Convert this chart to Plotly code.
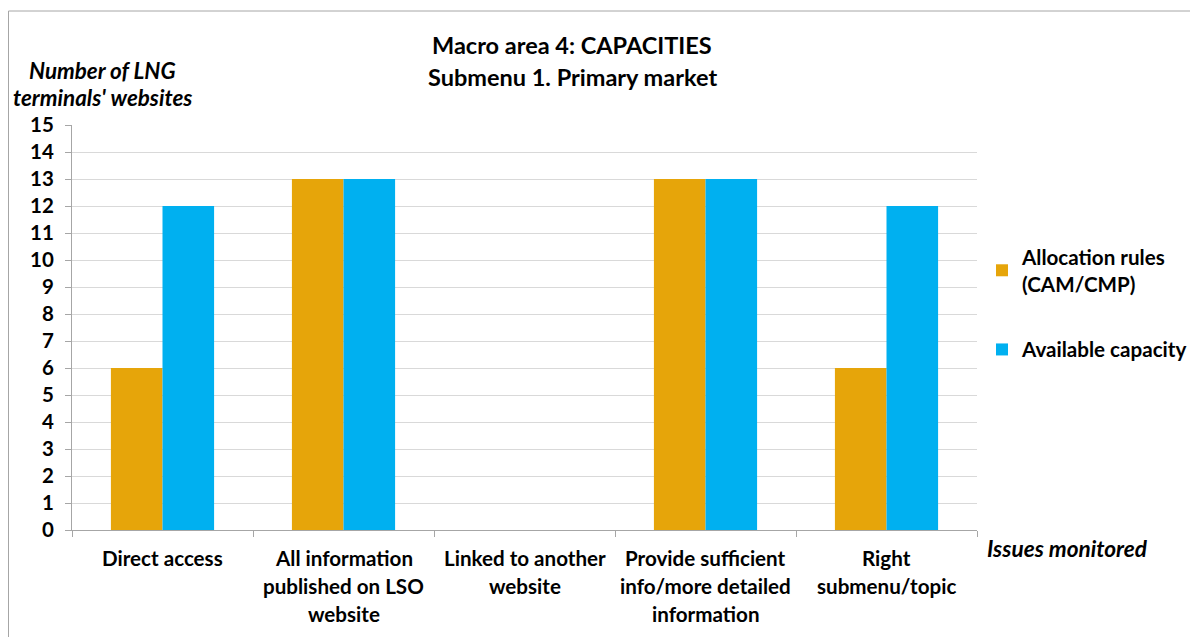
import plotly.graph_objects as go

categories = [
    "Direct access",
    "All information\npublished on LSO\nwebsite",
    "Linked to another\nwebsite",
    "Provide sufficient\ninfo/more detailed\ninformation",
    "Right\nsubmenu/topic",
]
allocation_rules = [6, 13, 0, 13, 6]
available_capacity = [12, 13, 0, 13, 12]
series_names = ["Allocation rules<br>(CAM/CMP)", "Available capacity"]
title_lines = ["Macro area 4: CAPACITIES", "Submenu 1. Primary market"]
y_title_lines = ["Number of LNG", "terminals' websites"]
x_title = "Issues monitored"
y_ticks = list(range(0, 16))

FONT = "Lato"
ORANGE = "#E6A50A"
BLUE = "#00B0F0"

fig = go.Figure()
fig.add_trace(go.Bar(x=categories, y=allocation_rules, name=series_names[0],
                     marker=dict(color=ORANGE, line=dict(width=0)), legendgroup="a"))
fig.add_trace(go.Bar(x=categories, y=available_capacity, name=series_names[1],
                     marker=dict(color=BLUE, line=dict(width=0)), legendgroup="b"))

# page body has an 8px margin; figure origin sits at screen (8, 8)
OFF = 8
W, H = 1250, 629
PLOT_RIGHT = 977
L, T, B = 64, 117, 107
R = W + OFF - PLOT_RIGHT
pw = W - L - R
ph = H - T - B

def px_x(sx):
    return (sx - OFF - L) / pw

def px_y(sy):
    return (H - B - (sy - OFF)) / ph

annotations = []
for i, line in enumerate(title_lines):
    annotations.append(dict(text=line, xref="paper", yref="paper", x=px_x(572), y=px_y(45 + 32 * i),
                            xanchor="center", yanchor="middle", showarrow=False,
                            font=dict(family=FONT, size=23.5, color="black", weight="bold")))
for i, line in enumerate(y_title_lines):
    annotations.append(dict(text="<i>" + line + "</i>", xref="paper", yref="paper", x=px_x(102), y=px_y(70 + 27 * i),
                            xanchor="center", yanchor="middle", showarrow=False,
                            font=dict(family=FONT, size=22.4, color="black", weight="bold")))
annotations.append(dict(text="<i>" + x_title + "</i>", xref="paper", yref="paper", x=px_x(1067), y=px_y(548),
                        xanchor="center", yanchor="middle", showarrow=False,
                        font=dict(family=FONT, size=22.6, color="black", weight="bold")))
for cat in categories:
    for j, line in enumerate(cat.split("\n")):
        annotations.append(dict(text=line, x=cat, xref="x", yref="paper", y=px_y(558 + 28 * j),
                                xanchor="center", yanchor="middle", showarrow=False,
                                font=dict(family=FONT, size=20.6, color="black", weight="bold")))

fig.update_layout(
    width=W, height=H,
    margin=dict(l=L, r=R, t=T, b=B, pad=0),
    paper_bgcolor="white", plot_bgcolor="white",
    barmode="group", bargap=0.43, bargroupgap=0,
    font=dict(family=FONT, size=20, color="black"),
    showlegend=True,
    legend=dict(x=px_x(982), y=px_y(237), xanchor="left", yanchor="top",
                traceorder="grouped", tracegroupgap=36,
                font=dict(family=FONT, size=20.6, color="black", weight="bold"),
                itemwidth=30, bgcolor="rgba(0,0,0,0)"),
    annotations=annotations,
    shapes=[dict(type="rect", xref="paper", yref="paper",
                 x0=px_x(8.5), x1=px_x(1260), y0=px_y(660), y1=px_y(11),
                 line=dict(color="#a6a6a6", width=1), fillcolor="rgba(0,0,0,0)", layer="below")],
)
fig.update_xaxes(showticklabels=False, showgrid=False, showline=True, linecolor="#a6a6a6", linewidth=1,
                 ticks="outside", tickson="boundaries", ticklen=6, tickcolor="#a6a6a6")
fig.update_yaxes(range=[0, 15], tickvals=y_ticks, showgrid=True, gridcolor="#d9d9d9", gridwidth=1,
                 showline=True, linecolor="#a6a6a6", linewidth=1, ticks="outside", ticklen=6,
                 tickcolor="#a6a6a6", zeroline=False, ticklabelstandoff=7,
                 tickfont=dict(family=FONT, size=20.5, color="black", weight="bold"))

fig.write_html("out.html", config={"displayModeBar": False, "responsive": False})
